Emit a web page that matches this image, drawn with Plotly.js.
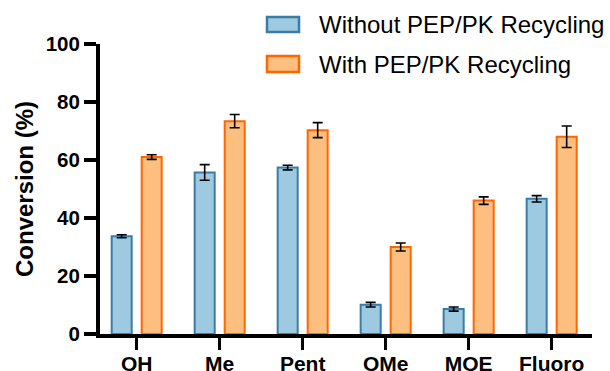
<!DOCTYPE html>
<html>
<head>
<meta charset="utf-8">
<script src="https://cdn.plot.ly/plotly-3.0.1.min.js"></script>
<style>html,body{margin:0;padding:0;background:#fff;}#chart{width:610px;height:371px;}</style>
</head>
<body>
<div id="chart"></div>
<script>
const categories = ["OH", "Me", "Pent", "OMe", "MOE", "Fluoro"];
const withoutValues = [33.7, 55.7, 57.4, 10.1, 8.6, 46.6];
const withoutErrors = [0.5, 2.7, 0.8, 0.8, 0.7, 1.1];
const withValues = [61.0, 73.4, 70.3, 30.0, 46.0, 68.0];
const withErrors = [0.8, 2.3, 2.6, 1.4, 1.3, 3.7];
const seriesNames = ["Without PEP/PK Recycling", "With PEP/PK Recycling"];
const yTicks = [0, 20, 40, 60, 80, 100];

const font = "Liberation Sans, Arial, sans-serif";
const errStyle = {type: "data", visible: true, color: "#000", thickness: 1.6, width: 5};
const fills = ["#9ecae1", "#fdbf80"];
const borders = ["#3a7ca5", "#ff6600"];

const traces = [
  {type: "bar", name: seriesNames[0], x: categories, y: withoutValues,
   error_y: Object.assign({array: withoutErrors}, errStyle),
   marker: {color: fills[0], line: {color: borders[0], width: 2}}},
  {type: "bar", name: seriesNames[1], x: categories, y: withValues,
   error_y: Object.assign({array: withErrors}, errStyle),
   marker: {color: fills[1], line: {color: borders[1], width: 2}}}
];

// Manual legend (swatch + text) placed in paper coordinates
const legendRows = [{y0: 1.0414, y1: 1.0931, ty: 1.0672}, {y0: 0.9034, y1: 0.9586, ty: 0.931}];
const shapes = legendRows.map((r, i) => ({
  type: "rect", xref: "paper", yref: "paper", x0: 0.3394, x1: 0.4045, y0: r.y0, y1: r.y1,
  fillcolor: fills[i], line: {color: borders[i], width: 2.5}
}));
const annotations = legendRows.map((r, i) => ({
  xref: "paper", yref: "paper", x: 0.441, y: r.ty, xanchor: "left", yanchor: "middle",
  text: seriesNames[i], showarrow: false, font: {family: font, size: 24, color: "#000"}
}));

const layout = {
  width: 610, height: 371,
  margin: {l: 100, r: 18, t: 44, b: 37},
  paper_bgcolor: "#fff", plot_bgcolor: "#fff",
  barmode: "group", bargap: 0.277, bargroupgap: 0.333,
  showlegend: false,
  shapes: shapes, annotations: annotations,
  xaxis: {type: "category", range: [-0.442, 5.486], showline: true, linecolor: "#000", linewidth: 4,
          ticks: "outside", ticklen: 12, tickwidth: 3.5, tickcolor: "#000", showgrid: false, zeroline: false,
          ticklabelstandoff: -4,
          tickfont: {family: font, size: 21, color: "#000", weight: "bold"}},
  yaxis: {range: [0, 100], tickvals: yTicks, ticktext: yTicks.map(String), showline: true, linecolor: "#000", linewidth: 4,
          ticks: "outside", ticklen: 12, tickwidth: 3.5, tickcolor: "#000", showgrid: false, zeroline: false,
          tickfont: {family: font, size: 20.5, color: "#000", weight: "bold"},
          title: {text: "<b>Conversion (%)</b>", font: {family: font, size: 24, color: "#000"}, standoff: 6}}
};

Plotly.newPlot("chart", traces, layout, {displayModeBar: false, staticPlot: true});
</script>
</body>
</html>
